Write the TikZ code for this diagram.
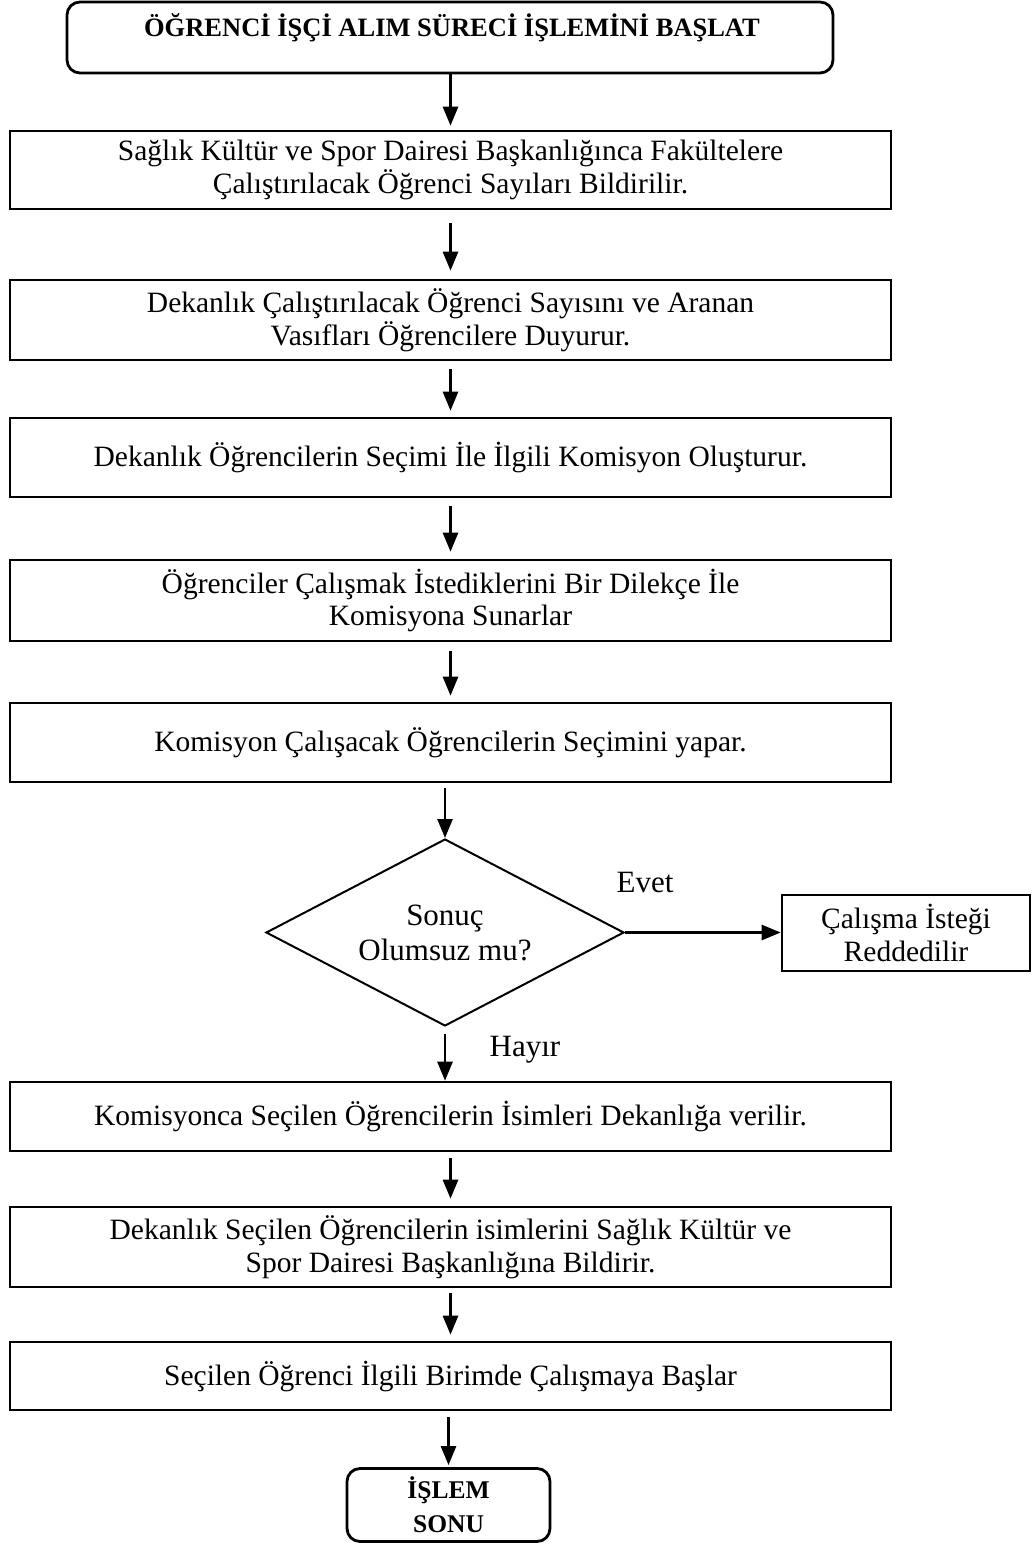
\documentclass[tikz,border=0pt]{standalone}
\usepackage{fontspec}
\setmainfont{Liberation Serif}
\usetikzlibrary{shapes.geometric,arrows.meta}

\begin{document}
\begin{tikzpicture}[x=1pt,y=-1pt,
  every node/.style={font=\fontsize{29.5}{32.5}\selectfont, align=center, inner sep=0pt},
  stepbox/.style={draw, line width=2.6pt, rectangle},
  roundbox/.style={draw, line width=2.8pt, rounded corners=13pt},
  decision/.style={draw, line width=2pt, diamond, inner sep=0pt},
  title/.style={font=\fontsize{26.5}{33}\bfseries\selectfont},
  flow/.style={line width=2.6pt, -{Triangle[width=15pt,length=19pt]}},
  lbl/.style={font=\fontsize{31}{35}\selectfont}
]
% page frame
\useasboundingbox (0,0) rectangle (1035,1544);

% start terminal
\node[roundbox, minimum width=766pt, minimum height=71pt] (start) at (450,37.5) {};
\node[title] (starttext) at (452,28) {ÖĞRENCİ İŞÇİ ALIM SÜRECİ İŞLEMİNİ BAŞLAT};

% process steps
\node[stepbox, minimum width=881pt, minimum height=78pt] (s1) at (450.5,170)
  {Sağlık Kültür ve Spor Dairesi Başkanlığınca Fakültelere\\Çalıştırılacak Öğrenci Sayıları Bildirilir.};
\node[stepbox, minimum width=881pt, minimum height=80pt] (s2) at (450.5,320)
  {Dekanlık Çalıştırılacak Öğrenci Sayısını ve Aranan\\Vasıfları Öğrencilere Duyurur.};
\node[stepbox, minimum width=881pt, minimum height=79pt] (s3) at (450.5,457.5)
  {Dekanlık Öğrencilerin Seçimi İle İlgili Komisyon Oluşturur.};
\node[stepbox, minimum width=881pt, minimum height=81pt] (s4) at (450.5,600.5)
  {Öğrenciler Çalışmak İstediklerini Bir Dilekçe İle\\Komisyona Sunarlar};
\node[stepbox, minimum width=881pt, minimum height=79pt] (s5) at (450.5,742.5)
  {Komisyon Çalışacak Öğrencilerin Seçimini yapar.};

% decision
\node[decision, minimum width=358pt, minimum height=187pt] (dec) at (445,932.5) {};
\node[lbl] (dectext) at (dec.center) {Sonuç\\Olumsuz mu?};
\node[stepbox, minimum width=248pt, minimum height=76pt] (reject) at (906,933)
  {Çalışma İsteği\\Reddedilir};
\node[lbl] (yes) at (645,882) {Evet};
\node[lbl] (no) at (525,1050) {Hayır};

\node[stepbox, minimum width=881pt, minimum height=69pt] (s6) at (450.5,1116.5)
  {Komisyonca Seçilen Öğrencilerin İsimleri Dekanlığa verilir.};
\node[stepbox, minimum width=881pt, minimum height=80pt] (s7) at (450.5,1247)
  {Dekanlık Seçilen Öğrencilerin isimlerini Sağlık Kültür ve\\Spor Dairesi Başkanlığına Bildirir.};
\node[stepbox, minimum width=881pt, minimum height=68pt] (s8) at (450.5,1376)
  {Seçilen Öğrenci İlgili Birimde Çalışmaya Başlar};

% end terminal
\node[roundbox, minimum width=203pt, minimum height=73pt, font=\fontsize{25.5}{34}\bfseries\selectfont] (end) at (448.5,1505)
  {İŞLEM\\SONU};

% connectors
\draw[flow, shorten >=4pt] (start.south -| s1.north) -- (s1.north);
\draw[flow, shorten <=13pt, shorten >=8pt] (s1) -- (s2);
\draw[flow, shorten <=8pt, shorten >=6pt] (s2) -- (s3);
\draw[flow, shorten <=8pt, shorten >=7pt] (s3) -- (s4);
\draw[flow, shorten <=9pt, shorten >=6pt] (s4) -- (s5);
\draw[flow, shorten <=5pt] (s5.south -| dec.north) -- (dec.north);
\draw[flow] (dec.east) -- (dec.east -| reject.west);
\draw[flow, shorten <=7pt] (dec.south) -- (s6.north -| dec.south);
\draw[flow, shorten <=6pt, shorten >=7pt] (s6) -- (s7);
\draw[flow, shorten <=5pt, shorten >=6pt] (s7) -- (s8);
\draw[flow, shorten <=6pt, shorten >=2pt] (s8.south -| end.north) -- (end.north);
\end{tikzpicture}
\end{document}
